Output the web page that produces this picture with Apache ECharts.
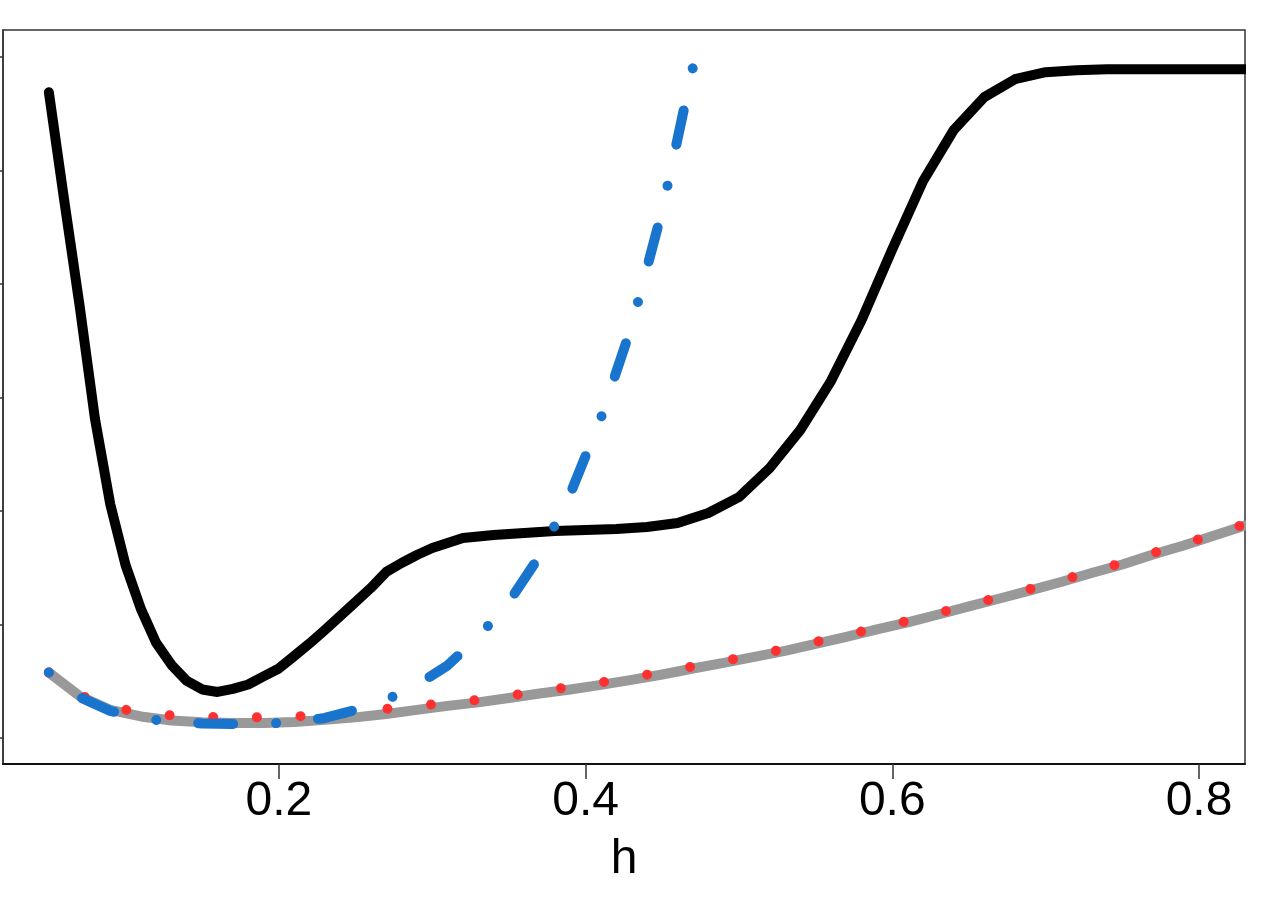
<!DOCTYPE html>
<html>
<head>
<meta charset="utf-8">
<script src="https://cdn.jsdelivr.net/npm/echarts@6/dist/echarts.min.js"></script>
<style>
  html, body { margin: 0; padding: 0; background: #fff; }
  #chart { width: 1275px; height: 900px; }
</style>
</head>
<body>
<div id="chart"></div>
<script>
// bandwidth grid for the black curve (finer where it bends)
var blackH = [0.05, 0.06, 0.07, 0.08, 0.09, 0.10, 0.11, 0.12, 0.13, 0.14,
  0.15, 0.16, 0.17, 0.18, 0.19, 0.20, 0.21, 0.22, 0.23, 0.24,
  0.25, 0.26, 0.27, 0.28, 0.29, 0.30, 0.32, 0.34, 0.36, 0.38,
  0.40, 0.42, 0.44, 0.46, 0.48, 0.50, 0.52, 0.54, 0.56, 0.58,
  0.60, 0.62, 0.64, 0.66, 0.68, 0.70, 0.72, 0.74, 0.76, 0.78,
  0.80, 0.82, 0.83]

var blackCurve = [5.692, 4.740, 3.815, 2.819, 2.062, 1.524, 1.137, 0.837, 0.643, 0.502,
  0.427, 0.405, 0.432, 0.471, 0.542, 0.612, 0.722, 0.833, 0.952, 1.075,
  1.198, 1.322, 1.463, 1.542, 1.612, 1.674, 1.762, 1.789, 1.806, 1.824,
  1.833, 1.841, 1.859, 1.894, 1.982, 2.123, 2.379, 2.714, 3.145, 3.683,
  4.308, 4.907, 5.357, 5.648, 5.806, 5.868, 5.885, 5.894, 5.894, 5.894,
  5.894, 5.894, 5.894]

// bandwidth grid for the other curves
var hGrid = [0.05, 0.07, 0.09, 0.11, 0.13, 0.15, 0.17, 0.19, 0.21, 0.23,
  0.25, 0.27, 0.29, 0.31, 0.33, 0.35, 0.37, 0.39, 0.41, 0.43,
  0.45, 0.47, 0.49, 0.51, 0.53, 0.55, 0.57, 0.59, 0.61, 0.63,
  0.65, 0.67, 0.69, 0.71, 0.73, 0.75, 0.77, 0.79, 0.81, 0.83]

// thick grey curve
var greyCurve = [0.577, 0.370, 0.247, 0.189, 0.154, 0.137, 0.132, 0.132, 0.141, 0.159,
  0.181, 0.211, 0.247, 0.282, 0.313, 0.352, 0.392, 0.427, 0.467, 0.511,
  0.559, 0.612, 0.661, 0.714, 0.767, 0.828, 0.890, 0.956, 1.018, 1.088,
  1.159, 1.229, 1.300, 1.374, 1.454, 1.529, 1.617, 1.696, 1.784, 1.872]

// red dotted curve
var redCurve = [0.577, 0.379, 0.273, 0.225, 0.198, 0.185, 0.181, 0.181, 0.189, 0.203,
  0.225, 0.256, 0.282, 0.308, 0.335, 0.370, 0.414, 0.449, 0.489, 0.533,
  0.581, 0.630, 0.678, 0.731, 0.784, 0.846, 0.907, 0.969, 1.031, 1.101,
  1.172, 1.242, 1.313, 1.388, 1.467, 1.542, 1.630, 1.709, 1.797, 1.885]

// blue dot-dash curve (stops at h = 0.47)
var blueCurve = [0.577, 0.361, 0.238, 0.176, 0.141, 0.128, 0.123, 0.123, 0.141, 0.176,
  0.247, 0.335, 0.467, 0.639, 0.890, 1.198, 1.604, 2.150, 2.819, 3.630,
  4.652, 5.912]

var xTicks = [0.2, 0.4, 0.6, 0.8]
var yTicks = [0, 1, 2, 3, 4, 5, 6]

function pairs (xs, vals) {
  return vals.map(function (v, i) { return [xs[i], v] })
}

var chart = echarts.init(document.getElementById('chart'))
chart.setOption({
  animation: false,
  backgroundColor: '#fff',
  grid: {
    left: 3,
    right: 30,
    top: 30,
    bottom: 136,
    show: true,
    borderColor: '#333',
    borderWidth: 1.5
  },
  // white margin strip so line caps do not poke past the right border
  graphic: [{
    type: 'rect',
    right: 0,
    top: 0,
    z: 100,
    shape: { width: 29, height: 900 },
    style: { fill: '#fff' }
  }],
  xAxis: {
    type: 'value',
    min: 0.0201,
    max: 0.830,
    name: 'h',
    nameLocation: 'middle',
    nameGap: 72,
    nameTextStyle: { fontFamily: 'Liberation Sans', fontSize: 48, color: '#000' },
    splitLine: { show: false },
    axisLine: { show: true, onZero: false, lineStyle: { color: '#111', width: 2 } },
    axisTick: {
      show: true,
      length: 15,
      customValues: xTicks,
      lineStyle: { color: '#333', width: 1.5 }
    },
    axisLabel: {
      customValues: xTicks,
      margin: 14,
      fontFamily: 'Liberation Sans',
      fontSize: 48,
      color: '#000',
      formatter: function (v) { return v.toFixed(1) }
    }
  },
  yAxis: {
    type: 'value',
    min: -0.23,
    max: 6.24,
    splitLine: { show: false },
    axisLine: { show: true, onZero: false, lineStyle: { color: '#333', width: 1.5 } },
    axisTick: {
      show: true,
      length: 15,
      customValues: yTicks,
      lineStyle: { color: '#333', width: 1.5 }
    },
    axisLabel: { show: false }
  },
  series: [{
    name: 'black',
    type: 'line',
    data: pairs(blackH, blackCurve),
    showSymbol: false,
    lineStyle: { color: '#000', width: 10, cap: 'round', join: 'round' }
  }, {
    name: 'grey',
    type: 'line',
    data: pairs(hGrid, greyCurve),
    showSymbol: false,
    lineStyle: { color: '#999999', width: 10, cap: 'round', join: 'round' }
  }, {
    name: 'red',
    type: 'line',
    data: pairs(hGrid, redCurve),
    showSymbol: false,
    lineStyle: { color: '#FF3030', width: 10, type: [0.01, 43.65], cap: 'round', join: 'round' }
  }, {
    name: 'blue',
    type: 'line',
    data: pairs(hGrid, blueCurve),
    showSymbol: false,
    lineStyle: { color: '#1874CD', width: 10, type: [0.01, 42, 35, 43], cap: 'round', join: 'round' }
  }]
})
</script>
</body>
</html>
